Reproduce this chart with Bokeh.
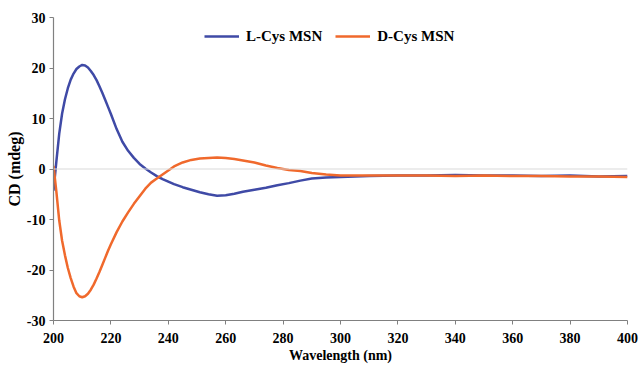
from bokeh.plotting import figure
from bokeh.models import Span, Range1d, FixedTicker, Legend, LegendItem, PrintfTickFormatter
from bokeh.embed import file_html
from bokeh.resources import INLINE

wavelength = [200, 201, 202, 203, 204, 205, 206, 207, 208, 209, 210, 211, 212, 213, 214, 215,
              216, 217, 218, 219, 220,
              222, 224, 226, 228, 230, 232, 234, 236, 238, 240, 242,
              245, 248, 251, 254, 257, 260, 263, 266,
              270, 274, 278, 282, 286, 290, 295, 300, 305, 310,
              320, 330, 340, 350, 360, 370, 380, 390, 400]

l_cys = [-4.3, 1.5, 7.0, 11.0, 13.8, 16.0, 17.7, 18.9, 19.8, 20.3, 20.6, 20.5, 20.1, 19.4, 18.6, 17.6,
         16.4, 15.1, 13.7, 12.3, 10.9,
         7.9, 5.4, 3.6, 2.2, 1.0, 0.1, -0.7, -1.4, -2.0, -2.5, -3.0,
         -3.6, -4.1, -4.6, -5.0, -5.3, -5.2, -4.9, -4.5,
         -4.1, -3.7, -3.2, -2.8, -2.3, -1.9, -1.7, -1.6, -1.5, -1.4,
         -1.3, -1.3, -1.2, -1.3, -1.3, -1.4, -1.3, -1.5, -1.4]

d_cys = [0.6, -4.5, -10.2, -14.2, -17.1, -19.6, -21.6, -23.3, -24.6, -25.2, -25.4, -25.2, -24.7, -23.9, -22.9, -21.7,
         -20.4, -19.0, -17.6, -16.2, -14.9,
         -12.5, -10.4, -8.6, -6.9, -5.4, -3.9, -2.7, -1.9, -1.1, -0.3, 0.5,
         1.3, 1.8, 2.1, 2.2, 2.3, 2.2, 2.0, 1.7,
         1.3, 0.7, 0.2, -0.2, -0.4, -0.8, -1.1, -1.3, -1.3, -1.3,
         -1.3, -1.3, -1.4, -1.3, -1.4, -1.4, -1.5, -1.5, -1.6]

x_ticks = [200, 220, 240, 260, 280, 300, 320, 340, 360, 380, 400]
y_ticks = [-30, -20, -10, 0, 10, 20, 30]
series_names = ["L-Cys MSN", "D-Cys MSN"]

FONT = "Liberation Serif"

p = figure(width=640, height=366, output_backend="svg", toolbar_location=None,
           x_range=Range1d(200, 400), y_range=Range1d(-30, 30),
           min_border_left=53, min_border_right=13, min_border_top=17, min_border_bottom=46)
p.outline_line_color = None
p.grid.visible = False

p.add_layout(Span(location=0, dimension="width", line_color="#d9d9d9", line_width=1.2))

r1 = p.line(wavelength, l_cys, line_color="#3F4AA6", line_width=2.5)
r2 = p.line(wavelength, d_cys, line_color="#F0692C", line_width=2.5)

for ax in (p.xaxis[0], p.yaxis[0]):
    ax.axis_line_color = "#808080"
    ax.axis_line_width = 1.2
    ax.major_tick_line_color = "#808080"
    ax.major_tick_out = 4
    ax.major_tick_in = 0
    ax.minor_tick_line_color = None
    ax.major_label_text_font = FONT
    ax.major_label_text_font_style = "bold"
    ax.major_label_text_font_size = "14px"
    ax.major_label_text_color = "black"
    ax.axis_label_text_font = FONT
    ax.axis_label_text_font_style = "bold"
    ax.axis_label_text_color = "black"
    ax.formatter = PrintfTickFormatter(format="%d")

p.xaxis[0].ticker = FixedTicker(ticks=x_ticks)
p.yaxis[0].ticker = FixedTicker(ticks=y_ticks)
p.xaxis[0].axis_label = "Wavelength (nm)"
p.yaxis[0].axis_label = "CD (mdeg)"
p.xaxis[0].axis_label_text_font_size = "14px"
p.yaxis[0].axis_label_text_font_size = "16px"
p.xaxis[0].major_label_standoff = 8
p.xaxis[0].axis_label_standoff = 2
p.yaxis[0].major_label_standoff = 4
p.yaxis[0].axis_label_standoff = 1

legend = Legend(items=[LegendItem(label=series_names[0], renderers=[r1]),
                       LegendItem(label=series_names[1], renderers=[r2])],
                orientation="horizontal", location=(151, 274),
                label_text_font=FONT, label_text_font_style="bold",
                label_text_font_size="15px", label_text_color="black",
                glyph_width=35, spacing=13, label_standoff=7,
                border_line_color=None, background_fill_alpha=0,
                margin=0, padding=2)
p.add_layout(legend)

open("out.html", "w").write(file_html(p, INLINE))
